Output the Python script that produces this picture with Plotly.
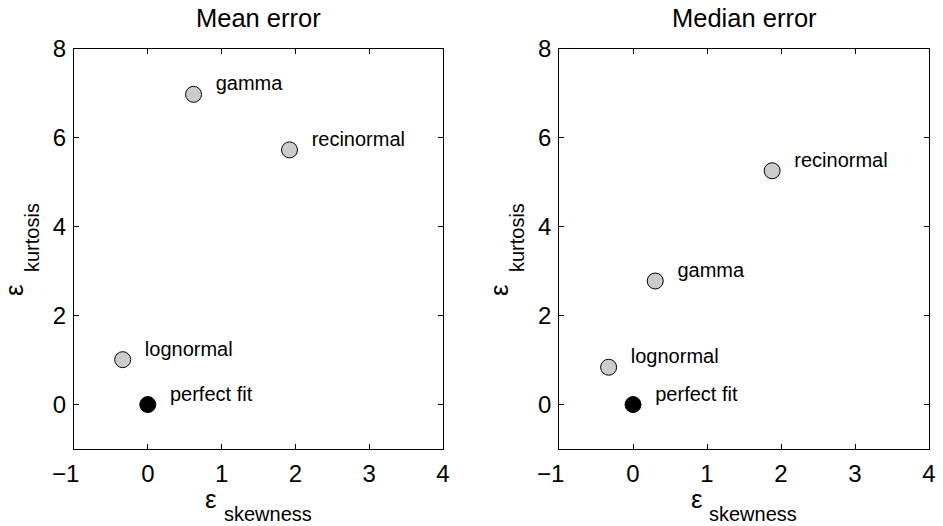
import plotly.graph_objects as go
from plotly.subplots import make_subplots

# Mean-error panel
mean_names = ["perfect fit", "lognormal", "gamma", "recinormal"]
mean_skew = [0.0, -0.34, 0.62, 1.92]
mean_kurt = [0.0, 1.01, 6.98, 5.73]

# Median-error panel
median_names = ["perfect fit", "lognormal", "gamma", "recinormal"]
median_skew = [0.0, -0.33, 0.30, 1.88]
median_kurt = [0.0, 0.84, 2.78, 5.26]

panel_titles = ["Mean error", "Median error"]
x_ticks = [-1, 0, 1, 2, 3, 4]
# negative labels get a trailing en+thin space so the digit, not the sign, sits under the tick
x_ticktext = ["−1\u2002\u2009", "0", "1", "2", "3", "4"]
y_ticks = [0, 2, 4, 6, 8]

FONT = "Liberation Sans, Arial, Helvetica, sans-serif"
LABEL_DX, LABEL_DY = 0.3, 0.2
BLACK = "black"

fig = make_subplots(rows=1, cols=2, horizontal_spacing=0.1357)

panels = [(mean_names, mean_skew, mean_kurt), (median_names, median_skew, median_kurt)]
for col, (names, sx, ky) in enumerate(panels, start=1):
    colors = [BLACK if n == "perfect fit" else "#cccccc" for n in names]
    fig.add_trace(go.Scatter(
        x=sx, y=ky, mode="markers",
        marker=dict(size=16, color=colors, line=dict(color=BLACK, width=1)),
        showlegend=False, hoverinfo="skip"), row=1, col=col)
    fig.add_trace(go.Scatter(
        x=[v + LABEL_DX for v in sx], y=[v + LABEL_DY for v in ky],
        mode="text", text=names, textposition="middle right",
        textfont=dict(family=FONT, size=20, color=BLACK),
        showlegend=False, hoverinfo="skip"), row=1, col=col)

axis_common = dict(
    showgrid=False, zeroline=False, showline=True, linecolor=BLACK, linewidth=1,
    mirror="ticks", ticks="inside", ticklen=5, tickcolor=BLACK, tickwidth=1,
    tickfont=dict(family=FONT, size=24, color=BLACK),
)
for col in (1, 2):
    fig.update_xaxes(range=[-1, 4], tickvals=x_ticks, ticktext=x_ticktext, row=1, col=col,
                     ticklabelstandoff=3, **axis_common)
    fig.update_yaxes(range=[-1, 8], tickvals=y_ticks, row=1, col=col,
                     ticklabelstandoff=2, **axis_common)

fig.update_xaxes(domain=[0.0, 0.4316], row=1, col=1)
fig.update_xaxes(domain=[0.5673, 1.0], row=1, col=2)

sub_font = dict(family=FONT, size=20, color=BLACK)
eps_font = dict(family=FONT, size=26, color=BLACK)
for i, t in enumerate(panel_titles):
    xr = "x domain" if i == 0 else "x2 domain"
    yr = "y domain" if i == 0 else "y2 domain"
    # panel title
    fig.add_annotation(text=t, x=0.5, y=1, xref=xr, yref=yr,
                       xanchor="center", yanchor="middle", yshift=31, showarrow=False,
                       font=dict(family=FONT, size=25.5, color=BLACK))
    # x-axis label: epsilon with a lowered subscript
    fig.add_annotation(text="ε", x=0.372, y=0, xref=xr, yref=yr,
                       xanchor="center", yanchor="middle", yshift=-50,
                       showarrow=False, font=eps_font)
    fig.add_annotation(text="skewness", x=0.4005, y=0, xref=xr, yref=yr,
                       xanchor="left", yanchor="middle", yshift=-65,
                       showarrow=False, font=sub_font)
    # y-axis label, rotated
    fig.add_annotation(text="ε", x=0, y=0.3975, xref=xr, yref=yr,
                       xanchor="center", yanchor="middle", xshift=-60, textangle=-90,
                       showarrow=False, font=eps_font)
    fig.add_annotation(text="kurtosis", x=0, y=0.5275, xref=xr, yref=yr,
                       xanchor="center", yanchor="middle", xshift=-42, textangle=-90,
                       showarrow=False, font=sub_font)

fig.update_layout(
    width=943, height=526,
    margin=dict(l=74, r=7, t=49, b=77),
    paper_bgcolor="white", plot_bgcolor="white",
    font=dict(family=FONT, color=BLACK),
)

fig.write_html("out.html")
